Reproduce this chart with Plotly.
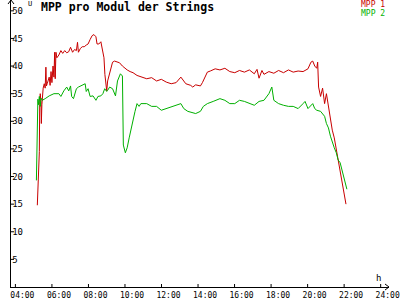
import plotly.graph_objects as go

# ---- data (time in decimal hours, values in V) ----
mpp1_t = [5.20, 5.23, 5.26, 5.31, 5.33, 5.36, 5.40, 5.42, 5.45, 5.47, 5.52, 5.58, 5.63, 5.67, 5.70, 5.74,
          5.85, 5.90, 5.95, 6.00, 6.06, 6.11, 6.15, 6.18, 6.22, 6.27, 6.38, 6.49, 6.59, 6.70, 6.81, 6.92,
          7.02, 7.13, 7.24, 7.34, 7.40, 7.45, 7.56, 7.66, 7.77, 7.88, 7.98, 8.09, 8.20, 8.30, 8.41, 8.47,
          8.57, 8.68, 8.79, 8.85, 8.90, 8.95, 9.00, 9.05, 9.16, 9.32, 9.43, 9.59, 9.70, 9.86, 10.02, 10.12,
          10.28, 10.44, 10.66, 10.93, 11.19, 11.46, 11.73, 11.99, 12.26, 12.53, 12.80, 13.06, 13.22, 13.33,
          13.60, 13.71, 13.87, 14.13, 14.24, 14.40, 14.51, 14.67, 14.94, 15.20, 15.47, 15.74, 16.01, 16.27,
          16.54, 16.81, 17.08, 17.23, 17.34, 17.50, 17.61, 17.88, 18.15, 18.41, 18.68, 18.95, 19.21, 19.48,
          19.75, 20.02, 20.18, 20.28, 20.39, 20.50, 20.55, 20.60, 20.71, 20.82, 20.93, 21.03, 21.14, 21.25,
          21.35, 21.46, 21.57, 21.67, 21.78, 21.89, 21.99, 22.10]
mpp1_v = [14.8, 17.5, 22.0, 24.5, 33.0, 35.0, 33.5, 29.6, 33.0, 35.0, 36.0, 36.8, 36.0, 39.8, 36.4, 36.8,
          38.0, 36.5, 39.0, 37.0, 40.0, 38.0, 42.5, 37.7, 42.5, 41.5, 42.0, 42.8, 42.3, 42.8, 42.4, 42.6,
          43.4, 42.5, 43.0, 42.8, 44.3, 42.5, 43.2, 43.5, 43.5, 43.8, 44.0, 44.8, 45.5, 45.7, 45.3, 44.0,
          44.0, 44.4, 42.7, 41.5, 38.5, 36.2, 35.5, 37.3, 38.5, 40.7, 40.9, 40.8, 40.6, 40.0, 39.5, 39.3,
          39.0, 38.8, 38.3, 38.0, 37.7, 37.9, 37.3, 37.6, 37.1, 36.8, 37.0, 38.0, 37.2, 36.8,
          36.5, 36.2, 36.6, 36.4, 37.0, 38.0, 38.9, 39.1, 39.5, 39.3, 39.6, 39.0, 38.8, 39.2,
          38.9, 39.3, 38.6, 39.4, 37.8, 39.2, 38.5, 39.0, 38.7, 39.2, 38.8, 39.3, 38.9, 39.1,
          39.0, 39.5, 40.7, 40.9, 40.0, 39.6, 40.7, 36.2, 34.5, 36.0, 33.2, 35.0, 32.7, 30.9,
          28.4, 27.0, 24.8, 23.0, 21.3, 19.0, 17.1, 15.0]

mpp2_t = [5.15, 5.18, 5.21, 5.23, 5.26, 5.31, 5.36, 5.40, 5.47, 5.63, 5.85, 6.11, 6.38, 6.49, 6.65, 6.81,
          6.92, 7.02, 7.08, 7.18, 7.34, 7.45, 7.61, 7.72, 7.82, 7.88, 7.98, 8.09, 8.25, 8.41, 8.52, 8.68,
          8.79, 8.89, 9.00, 9.05, 9.16, 9.32, 9.43, 9.48, 9.59, 9.75, 9.86, 9.91, 10.02, 10.12, 10.23, 10.34,
          10.44, 10.55, 10.66, 10.77, 10.87, 11.19, 11.46, 11.73, 11.99, 12.26, 12.53, 12.80, 13.06, 13.22,
          13.44, 13.87, 14.13, 14.29, 14.51, 14.83, 15.20, 15.47, 15.74, 16.01, 16.27, 16.54, 16.81, 17.08,
          17.34, 17.61, 17.88, 18.04, 18.15, 18.41, 18.68, 18.95, 19.21, 19.48, 19.75, 19.86, 20.02, 20.18,
          20.28, 20.39, 20.50, 20.71, 20.82, 20.93, 21.03, 21.14, 21.25, 21.35, 21.46, 21.57, 21.67, 21.78,
          21.89, 21.99, 22.10, 22.15]
mpp2_v = [19.3, 23.4, 30.0, 34.0, 33.0, 34.5, 32.7, 34.2, 33.8, 34.1, 34.6, 35.0, 35.0, 34.5, 35.5, 36.2,
          35.5, 36.4, 34.5, 34.1, 35.9, 36.2, 36.4, 36.6, 36.8, 35.4, 35.9, 34.5, 34.6, 33.8, 34.5, 34.6,
          35.0, 35.9, 35.4, 35.6, 36.2, 35.9, 35.0, 34.6, 37.3, 38.6, 38.2, 25.7, 24.3, 25.2, 27.0, 28.8,
          30.5, 31.8, 33.2, 32.7, 33.2, 33.2, 32.7, 32.7, 32.0, 32.3, 32.7, 32.9, 33.2, 32.3,
          31.8, 31.4, 31.8, 32.7, 33.2, 33.6, 34.1, 33.8, 33.2, 33.2, 33.8, 33.6, 33.2, 32.9,
          33.6, 33.8, 35.0, 36.2, 33.8, 33.2, 32.9, 32.7, 32.7, 32.3, 33.2, 33.6, 32.3, 32.9,
          33.2, 32.3, 32.0, 31.8, 31.4, 30.9, 29.6, 28.8, 27.3, 26.1, 25.2, 24.3, 23.0, 22.5,
          21.1, 19.8, 18.6, 17.7]

x_tickvals = [4, 6, 8, 10, 12, 14, 16, 18, 20, 22, 24]
x_ticktext = ["04:00", "06:00", "08:00", "10:00", "12:00", "14:00", "16:00", "18:00", "20:00", "22:00", "24:00"]
y_tickvals = [5, 10, 15, 20, 25, 30, 35, 40, 45, 50]
y_ticktext = ["5", "10", "15", "20", "25", "30", "35", "40", "45", "50"]

RED = "#c80000"
GREEN = "#00b000"
FONT = "DejaVu Sans Mono"
X_RANGE = [3.759, 24.456]
Y_RANGE = [0, 51.96]
PLOT_H = 291

fig = go.Figure()
fig.add_trace(go.Scatter(x=mpp1_t, y=mpp1_v, mode="lines", line=dict(color=RED, width=1), name="MPP 1"))
fig.add_trace(go.Scatter(x=mpp2_t, y=mpp2_v, mode="lines", line=dict(color=GREEN, width=1), name="MPP 2"))

shapes = []
# crossing tick marks
for tv in x_tickvals:
    shapes.append(dict(type="line", xref="x", x0=tv, x1=tv, yref="y", ysizemode="pixel", yanchor=0,
                       y0=-4, y1=3, line=dict(color="black", width=1)))
for tv in y_tickvals:
    shapes.append(dict(type="line", yref="y", y0=tv, y1=tv, xref="x", xsizemode="pixel", xanchor=X_RANGE[0],
                       x0=-4, x1=3, line=dict(color="black", width=1)))
# arrow heads
shapes.append(dict(type="path", xref="paper", yref="paper", xsizemode="pixel", ysizemode="pixel",
                   xanchor=0, yanchor=1, path="M -3,-4 L 0,0 L 3,-4", line=dict(color="black", width=1)))
shapes.append(dict(type="path", xref="paper", yref="paper", xsizemode="pixel", ysizemode="pixel",
                   xanchor=1, yanchor=0, path="M -4,3 L 0,0 L -4,-3", line=dict(color="black", width=1)))


def py(px):
    return 1 - px / PLOT_H


def pxx(px):
    return (px - 11) / 387


annotations = [
    dict(text="<b>MPP pro Modul der Strings</b>", xref="paper", yref="paper", x=pxx(40), y=py(7.5),
         xanchor="left", yanchor="middle", showarrow=False, font=dict(family=FONT, size=11.5, color="black")),
    dict(text="MPP 1", xref="paper", yref="paper", x=pxx(395), y=py(5),
         xanchor="right", yanchor="middle", showarrow=False, borderpad=0,
         font=dict(family=FONT, size=8, color=RED)),
    dict(text="MPP 2", xref="paper", yref="paper", x=pxx(395), y=py(14),
         xanchor="right", yanchor="middle", showarrow=False, borderpad=0,
         font=dict(family=FONT, size=8, color=GREEN)),
    dict(text="U", xref="paper", yref="paper", x=pxx(30), y=py(4),
         xanchor="center", yanchor="middle", showarrow=False, borderpad=0,
         font=dict(family=FONT, size=7, color="black")),
    dict(text="h", xref="paper", yref="paper", x=pxx(387.5), y=py(281.5),
         xanchor="center", yanchor="middle", showarrow=False, font=dict(family=FONT, size=9, color="black")),
]

fig.update_layout(
    width=400, height=300,
    margin=dict(l=11, r=2, t=0, b=300 - PLOT_H, pad=0),
    paper_bgcolor="white", plot_bgcolor="white",
    showlegend=False,
    shapes=shapes, annotations=annotations,
    font=dict(family=FONT, color="black"),
    xaxis=dict(range=X_RANGE, tickvals=x_tickvals, ticktext=x_ticktext, showgrid=False, zeroline=False,
               showline=True, linecolor="black", linewidth=1, ticks="", ticklabelshift=7,
               ticklabeloverflow="allow", tickfont=dict(family=FONT, size=8, color="black")),
    yaxis=dict(range=Y_RANGE, tickvals=y_tickvals, ticktext=y_ticktext, showgrid=False, zeroline=False,
               showline=True, linecolor="black", linewidth=1, ticks="", ticklabelposition="inside",
               ticklabeloverflow="allow", tickfont=dict(family=FONT, size=9, color="black")),
)

fig.write_html("out.html")
